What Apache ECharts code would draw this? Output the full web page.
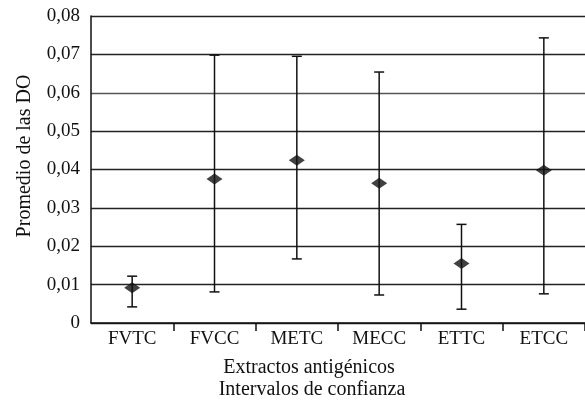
<!DOCTYPE html>
<html>
<head>
<meta charset="utf-8">
<script src="https://cdn.jsdelivr.net/npm/echarts@6/dist/echarts.min.js"></script>
<style>
  html, body { margin: 0; padding: 0; background: #fff; }
  #chart { width: 585px; height: 403px; }
</style>
</head>
<body>
<div id="chart"></div>
<script>
  const categories = ['FVTC', 'FVCC', 'METC', 'MECC', 'ETTC', 'ETCC'];
  const means = [0.0092, 0.0375, 0.0424, 0.0364, 0.0155, 0.0398];
  const lower = [0.0042, 0.0081, 0.0167, 0.0073, 0.0036, 0.0076];
  const upper = [0.0122, 0.0698, 0.0695, 0.0654, 0.0257, 0.0743];

  const FONT = "'Liberation Serif', 'Times New Roman', serif";
  const INK = '#111';

  const chart = echarts.init(document.getElementById('chart'));

  function formatTick(value) {
    if (value === 0) return '0';
    return value.toFixed(2).replace('.', ',');
  }

  const errorData = categories.map((c, i) => [i, lower[i], upper[i]]);

  chart.setOption({
    animation: false,
    backgroundColor: '#fff',
    grid: { left: 91, right: 0, top: 16, bottom: 80 },
    xAxis: {
      type: 'category',
      data: categories,
      boundaryGap: true,
      axisLine: { lineStyle: { color: INK, width: 1.5 } },
      axisTick: {
        show: true,
        length: 8,
        // no tick under the y axis
        interval: (index) => index !== 0,
        lineStyle: { color: INK, width: 1.5 },
      },
      axisLabel: { color: INK, fontFamily: FONT, fontSize: 19, margin: 7 },
    },
    yAxis: {
      type: 'value',
      min: 0,
      max: 0.08,
      interval: 0.01,
      axisLine: { show: true, lineStyle: { color: INK, width: 1.5 } },
      axisTick: { show: false },
      axisLabel: { color: INK, fontFamily: FONT, fontSize: 19, margin: 11, formatter: formatTick },
      splitLine: {
        lineStyle: {
          color: ['#222', '#222', '#222', '#222', '#222', '#222', '#555', '#222', '#222'],
          width: 1.3,
        },
      },
    },
    graphic: [
      {
        type: 'text',
        x: 25,
        y: 156,
        rotation: Math.PI / 2,
        style: {
          text: 'Promedio de las DO',
          font: '20px ' + FONT,
          fill: INK,
          align: 'center',
          verticalAlign: 'middle',
        },
      },
      {
        type: 'text',
        x: 309,
        y: 368,
        style: {
          text: 'Extractos antigénicos',
          font: '20px ' + FONT,
          fill: INK,
          align: 'center',
          verticalAlign: 'middle',
        },
      },
      {
        type: 'text',
        x: 312,
        y: 390,
        style: {
          text: 'Intervalos de confianza',
          font: '20px ' + FONT,
          fill: INK,
          align: 'center',
          verticalAlign: 'middle',
        },
      },
    ],
    series: [
      {
        type: 'custom',
        name: 'Intervalo',
        data: errorData,
        z: 3,
        renderItem: (params, api) => {
          const lo = api.coord([api.value(0), api.value(1)]);
          const hi = api.coord([api.value(0), api.value(2)]);
          const half = 5;
          const style = { stroke: INK, lineWidth: 1.5 };
          return {
            type: 'group',
            children: [
              { type: 'line', shape: { x1: lo[0], y1: lo[1], x2: hi[0], y2: hi[1] }, style },
              { type: 'line', shape: { x1: hi[0] - half, y1: hi[1], x2: hi[0] + half, y2: hi[1] }, style },
              { type: 'line', shape: { x1: lo[0] - half, y1: lo[1], x2: lo[0] + half, y2: lo[1] }, style },
            ],
          };
        },
      },
      {
        type: 'scatter',
        name: 'Promedio',
        data: means,
        symbol: 'diamond',
        symbolSize: [16, 11],
        itemStyle: { color: INK },
        z: 4,
      },
    ],
  });
</script>
</body>
</html>
